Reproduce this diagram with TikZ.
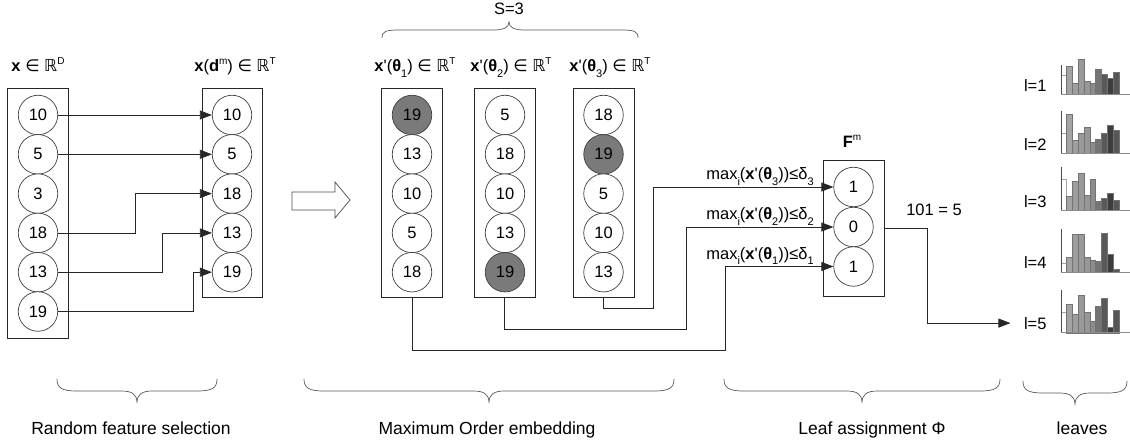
\documentclass[tikz,border=0pt]{standalone}
\usepackage{fontspec}
\setmainfont{Liberation Sans}
\newfontfamily\symfont{DejaVu Sans}
\usetikzlibrary{arrows.meta}

\definecolor{darkball}{HTML}{7A7A7A}
\definecolor{hb1}{HTML}{A3A3A3}
\definecolor{hb2}{HTML}{9E9E9E}
\definecolor{hb3}{HTML}{9A9A9A}
\definecolor{hb4}{HTML}{979797}
\definecolor{hb5}{HTML}{8C8C8C}
\definecolor{hb6}{HTML}{747474}
\definecolor{hb7}{HTML}{595959}
\definecolor{hb8}{HTML}{3C3C3C}
\definecolor{hb9}{HTML}{565656}

% small raised / lowered text
\newcommand\sups[1]{\raisebox{0.45em}{\fontsize{10}{12}\selectfont #1}}
\newcommand\subs[1]{\raisebox{-0.35em}{\fontsize{11}{12}\selectfont #1}}
\newcommand\elem{{\symfont ∈}}
\newcommand\reals{{\symfont ℝ}}

% histogram of one leaf: baseline y, axis top y, first (empty) bar height, nine bar heights
\newcommand\leafhist[4]{%
  \draw[black!35,line width=0.5pt,fill=white] (1061,#1) rectangle (1066.3,#1-#3);
  \foreach \h [count=\i] in {#4} {
    \draw[black!55,line width=0.4pt,fill=hb\i] ({1066.3+(\i-1)*5.85},#1) rectangle ++(5.85,-\h);
  }
  \draw[black!70,line width=0.6pt] (1061,#2) -- (1061,#1);
  \draw[black!45,line width=0.6pt] (1061,#1) -- (1130,#1);
}

% downward brace: left x, right x, top y
\newcommand\bracedown[3]{%
  \draw[brc] (#1,#3) .. controls (#1,#3+9) and (#1+5,#3+12) .. (#1+20,#3+12)
    -- ({(#1+#2)/2-16},#3+12) .. controls ({(#1+#2)/2-5},#3+12) and ({(#1+#2)/2},#3+15) .. ({(#1+#2)/2},#3+24)
    .. controls ({(#1+#2)/2},#3+15) and ({(#1+#2)/2+5},#3+12) .. ({(#1+#2)/2+16},#3+12)
    -- (#2-20,#3+12) .. controls (#2-5,#3+12) and (#2,#3+9) .. (#2,#3);
}

\begin{document}
\begin{tikzpicture}[x=1pt,y=-1pt,
  every node/.style={font=\fontsize{16.5}{19}\selectfont},
  ball/.style={circle,draw=black!75,line width=0.7pt,fill=white,minimum size=39.5pt,inner sep=0pt},
  hot/.style={ball,fill=darkball},
  frame/.style={draw=black!85,line width=0.7pt,inner sep=0pt},
  conn/.style={draw=black!85,line width=0.75pt},
  arr/.style={conn,-{Triangle[length=12pt,width=9pt]}},
  brc/.style={draw=black!65,line width=0.7pt},
  biglabel/.style={font=\fontsize{17.5}{20}\selectfont,anchor=base},
]
\useasboundingbox (0,0) rectangle (1130,441);

% ---- input vector and selected features
\node[frame,minimum width=61pt,minimum height=250pt] (A) at (37.5,213) {};
\node[frame,minimum width=60pt,minimum height=209pt] (B) at (232,192.5) {};
\foreach \v [count=\i] in {10,5,3,18,13,19}
  \node[ball] (a\i) at (38,{115+(\i-1)*39.3}) {\v};
\foreach \v [count=\i] in {10,5,18,13,19}
  \node[ball] (b\i) at (232,{115+(\i-1)*39.3}) {\v};

\node[anchor=base] (tA) at (38,72) {\textbf{x} \elem\ \reals\sups{D}};
\node[anchor=base] (tB) at (235,72) {\textbf{x}(\textbf{d}\sups{m}) \elem\ \reals\sups{T}};

\draw[arr] (a1.east) -- (b1.west);
\draw[arr] (a2.east) -- (b2.west);
\draw[arr] (a4.east) -- ++(77,0) |- (b3.west);
\draw[arr] (a5.east) -- ++(104,0) |- (b4.west);
\draw[arr] (a6.east) -- ++(135,0) |- (b5.west);

% ---- hollow block arrow
\draw[black!70,line width=0.7pt,fill=white] (292,192) -- (335,192) -- (335,182) -- (350,200)
  -- (335,218) -- (335,210) -- (292,210) -- cycle;

% ---- ordered embeddings
\node[frame,minimum width=61pt,minimum height=209pt] (C1) at (412,192.5) {};
\node[frame,minimum width=61pt,minimum height=209pt] (C2) at (504.5,192.5) {};
\node[frame,minimum width=61pt,minimum height=209pt] (C3) at (603.5,192.5) {};
\foreach \v/\s [count=\i] in {19/hot,13/ball,10/ball,5/ball,18/ball}
  \node[\s] (p\i) at (412,{115+(\i-1)*39.3}) {\v};
\foreach \v/\s [count=\i] in {5/ball,18/ball,10/ball,13/ball,19/hot}
  \node[\s] (q\i) at (505,{115+(\i-1)*39.3}) {\v};
\foreach \v/\s [count=\i] in {18/ball,19/hot,5/ball,10/ball,13/ball}
  \node[\s] (r\i) at (603.5,{115+(\i-1)*39.3}) {\v};

\node[anchor=base] (t1) at (415,72) {\textbf{x}\textquotesingle(\textbf{θ}\subs{1}) \elem\ \reals\sups{T}};
\node[anchor=base] (t2) at (511,72) {\textbf{x}\textquotesingle(\textbf{θ}\subs{2}) \elem\ \reals\sups{T}};
\node[anchor=base] (t3) at (610,72) {\textbf{x}\textquotesingle(\textbf{θ}\subs{3}) \elem\ \reals\sups{T}};

\draw[brc] (382,38) .. controls (382,31) and (386,30) .. (400,30) -- (493,30)
  .. controls (503,30) and (509,28) .. (509,22) .. controls (509,28) and (515,30) .. (525,30)
  -- (620,30) .. controls (634,30) and (638,31) .. (638,38);
\node[anchor=base] (tS) at (509,15) {S=3};

% ---- leaf code
\node[frame,minimum width=61pt,minimum height=136pt] (F) at (853.5,228) {};
\node[ball] (f1) at (853.5,187) {1};
\node[ball] (f2) at (853.5,227) {0};
\node[ball] (f3) at (853.5,266.5) {1};
\node[anchor=base] (tF) at (852,148) {\textbf{F}\sups{m}};

\coordinate (k3) at (653,308);
\coordinate (k2) at (686,329);
\coordinate (k1) at (725,350);
\draw[arr] (C3.south) |- (k3) |- (f1.west);
\draw[arr] (C2.south) |- (k2) |- (f2.west);
\draw[arr] (C1.south) |- (k1) |- (f3.west);

\node[anchor=south,inner sep=0.5pt] (m3) at (760,186) {max\subs{i}(\textbf{x}\textquotesingle(\textbf{θ}\subs{3}))≤δ\subs{3}};
\node[anchor=south,inner sep=0.5pt] (m2) at (760,226) {max\subs{i}(\textbf{x}\textquotesingle(\textbf{θ}\subs{2}))≤δ\subs{2}};
\node[anchor=south,inner sep=0.5pt] (m1) at (760,265.5) {max\subs{i}(\textbf{x}\textquotesingle(\textbf{θ}\subs{1}))≤δ\subs{1}};

\node[anchor=base] (code) at (934,215) {101 = 5};

% ---- leaves
\node[anchor=base east] (l1) at (1050,92) {l=1};
\node[anchor=base east] (l2) at (1050,151) {l=2};
\node[anchor=base east] (l3) at (1050,207) {l=3};
\node[anchor=base east] (l4) at (1050,268) {l=4};
\node[anchor=base east] (l5) at (1050,329) {l=5};

\draw[arr,shorten >=10pt] (F.east) -- ++(43,0) |- (l5.west);

\leafhist{94.5}{65}{19.3}{28.3,11,35,13.7,11,25.3,20,16.7,22.3}
\leafhist{153.7}{111}{20.3}{39,13,20.3,26.3,11.7,14.7,20.3,28.7,23}
\leafhist{210.3}{167}{31}{14.3,29.3,37,14.7,30.7,8.7,11.7,17.3,10.3}
\leafhist{272}{229}{8.7}{15,38,38,15,12.3,10.7,39,17.7,3}
\leafhist{332.7}{290}{20}{29,18.7,37.3,20.3,11.7,26.7,34.3,6,23}

% ---- stage braces and captions
\bracedown{57}{217}{379}
\bracedown{304}{674}{379}
\bracedown{724}{1000}{379}
\bracedown{1023}{1127}{381}
\node[biglabel] (s1) at (131,434) {Random feature selection};
\node[biglabel] (s2) at (487,434) {Maximum Order embedding};
\node[biglabel] (s3) at (872,434) {Leaf assignment Φ};
\node[biglabel] (s4) at (1082,434) {leaves};
\end{tikzpicture}
\end{document}
